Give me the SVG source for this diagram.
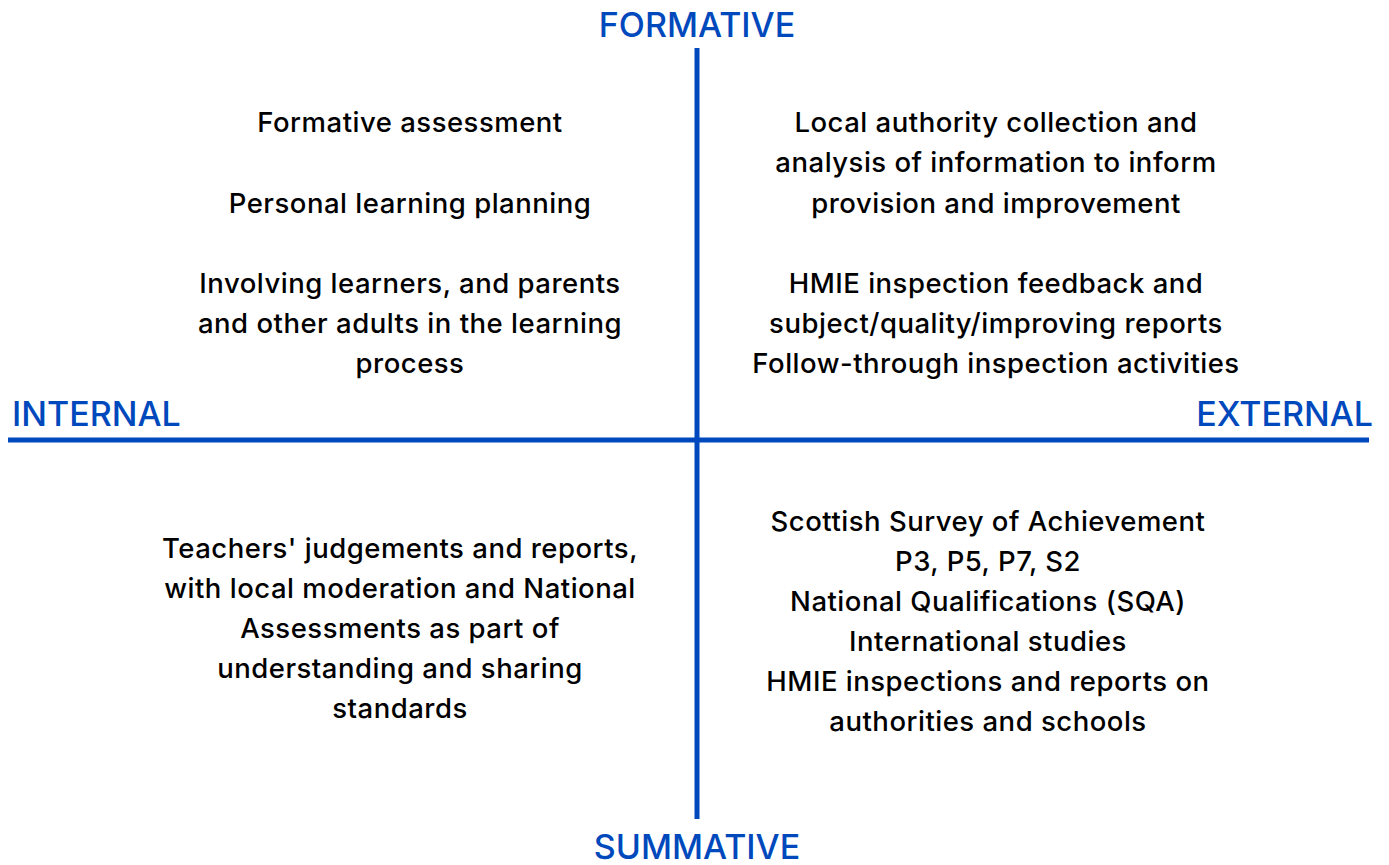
<svg xmlns="http://www.w3.org/2000/svg" width="1389" height="865" viewBox="0 0 1389 865">
<style>
.ax{font-family:Inter,"Liberation Sans",Arial,sans-serif;font-size:34px;font-weight:500;fill:#0049BD}
.t{font-family:Inter,"Liberation Sans",Arial,sans-serif;font-size:27.5px;letter-spacing:0.5px;font-weight:500;fill:#000;text-anchor:middle}
.ln{stroke:#0049BD;stroke-width:5;fill:none}
</style>
<rect width="1389" height="865" fill="#fff"/>
<g id="connectors">
<line class="ln" x1="8" y1="440" x2="1369" y2="440"/>
<line class="ln" x1="697" y1="48" x2="697" y2="819"/>
</g>
<g id="axis-labels">
<text id="formative" class="ax" x="697" y="37" text-anchor="middle">FORMATIVE</text>
<text id="summative" class="ax" x="697" y="859" text-anchor="middle">SUMMATIVE</text>
<text id="internal" class="ax" x="12" y="426">INTERNAL</text>
<text id="external" class="ax" x="1373" y="426" text-anchor="end">EXTERNAL</text>
</g>
<g id="node-tl">
<text class="t" x="410" y="132">Formative assessment</text>
<text class="t" x="410" y="213">Personal learning planning</text>
<text class="t" x="410" y="293">Involving learners, and parents</text>
<text class="t" x="410" y="333">and other adults in the learning</text>
<text class="t" x="410" y="373">process</text>
</g>
<g id="node-tr">
<text class="t" x="996" y="132">Local authority collection and</text>
<text class="t" x="996" y="172">analysis of information to inform</text>
<text class="t" x="996" y="213">provision and improvement</text>
<text class="t" x="996" y="293">HMIE inspection feedback and</text>
<text class="t" x="996" y="333">subject/quality/improving reports</text>
<text class="t" x="996" y="373">Follow-through inspection activities</text>
</g>
<g id="node-bl">
<text class="t" x="400" y="558">Teachers' judgements and reports,</text>
<text class="t" x="400" y="598">with local moderation and National</text>
<text class="t" x="400" y="638">Assessments as part of</text>
<text class="t" x="400" y="678">understanding and sharing</text>
<text class="t" x="400" y="718">standards</text>
</g>
<g id="node-br">
<text class="t" x="988" y="531">Scottish Survey of Achievement</text>
<text class="t" x="988" y="571">P3, P5, P7, S2</text>
<text class="t" x="988" y="611">National Qualifications (SQA)</text>
<text class="t" x="988" y="651">International studies</text>
<text class="t" x="988" y="691">HMIE inspections and reports on</text>
<text class="t" x="988" y="731">authorities and schools</text>
</g>
</svg>
